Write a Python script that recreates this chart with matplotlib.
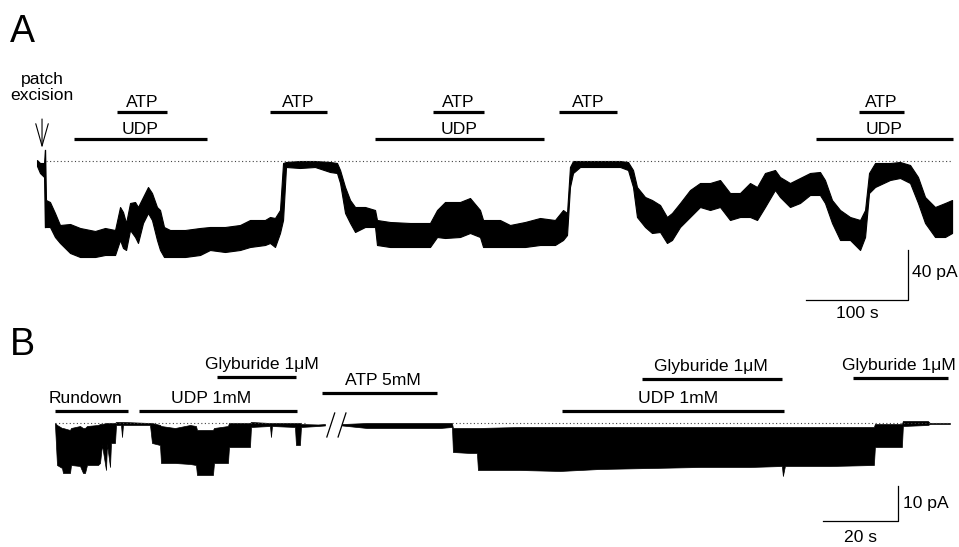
import matplotlib
matplotlib.use("Agg")
import matplotlib.pyplot as plt

plt.rcParams["font.family"] = ["Liberation Sans", "DejaVu Sans"]

# ---- panel A: macroscopic current (time in s, current in pA) ----
a_time = [0, 2.9, 6.9, 7.8, 8.8, 12.7, 17.6, 22.5, 32.4, 42.2, 56.9, 66.7, 76.5, 81.4,
          84.3, 87.3, 91.2, 96.1, 99, 103.9, 108.8, 112.7, 117.6, 120.6, 124.5, 130.4,
          145.1, 159.8, 169.6, 184.3, 199, 208.8, 223.5, 228.4, 233.3, 238.2, 241.2,
          244.1, 257.8, 272.5, 287.3, 294.1, 297.1, 302, 306.9, 311.8, 321.6, 331.4,
          333.3, 346.1, 365.7, 385.3, 392.2, 400, 414.7, 424.5, 434.3, 437.3, 453.9,
          463.7, 478.4, 493.1, 507.8, 515.7, 519.6, 522.5, 525.5, 532.4, 571.6, 579.4,
          584.3, 588.2, 596.1, 602.9, 610.8, 617.6, 622.5, 630.4, 640.2, 650, 659.8,
          669.6, 679.4, 689.2, 699, 705.9, 713.7, 723.5, 728.4, 738.2, 748, 757.8,
          767.6, 772.5, 779.4, 787.3, 797.1, 806.9, 811.8, 815.7, 821.6, 836.3, 846.1,
          855.9, 863.7, 870.6, 880.4, 890.2, 897.1]
a_top = [0.8, -1.6, -1.6, 8.8, -31.2, -32.8, -41.6, -51.2, -50.4, -53.6, -56, -53.6,
         -55.2, -36.8, -40.8, -49.6, -33.6, -32.8, -36.8, -28.8, -20.8, -25.6, -36.8,
         -39.2, -52.8, -55.2, -55.2, -53.6, -52.8, -52.8, -51.2, -47.2, -47.2, -44.8,
         -45.6, -39.2, -1.6, -0.8, 0, 0, -0.8, -1.6, -7.2, -20.8, -31.2, -36.8, -36.8,
         -39.2, -47.2, -48.8, -49.6, -49.6, -39.2, -32.8, -32.8, -29.6, -39.2, -47.2,
         -47.2, -51.2, -48.8, -45.6, -47.2, -39.2, -41.6, -4.8, 0, 0, 0, -0.8, -7.2,
         -20.8, -28.8, -31.2, -35.2, -44.8, -41.6, -33.6, -23.2, -17.6, -17.6, -15.2,
         -25.6, -25.6, -17.6, -20.8, -9.6, -7.2, -12.8, -17.6, -13.6, -9.6, -8.8,
         -15.2, -31.2, -39.2, -44.8, -47.2, -39.2, -9.6, -1.6, -1.6, -0.8, -3.2,
         -12.8, -28.8, -36.8, -33.6, -31.2]
a_bottom = [-4, -9.6, -12.8, -52.8, -52.8, -52.8, -60.8, -65.6, -73.6, -76.8, -76.8,
            -75.2, -75.2, -63.2, -69.6, -71.2, -55.2, -60.8, -65.6, -49.6, -41.6,
            -47.2, -63.2, -71.2, -76.8, -76.8, -76.8, -75.2, -71.2, -72.8, -71.2,
            -68.8, -67.2, -65.6, -68.8, -57.6, -47.2, -4.8, -5.6, -4.8, -8.8, -9.6,
            -17.6, -41.6, -49.6, -56.8, -52.8, -52.8, -67.2, -68.8, -68.8, -68.8,
            -60.8, -61.6, -60.8, -57.6, -60.8, -68.8, -68.8, -68.8, -68.8, -67.2,
            -67.2, -63.2, -59.2, -20.8, -9.6, -4.8, -4.8, -7.2, -20.8, -44.8, -52.8,
            -57.6, -56.8, -65.6, -63.2, -52.8, -44.8, -36.8, -39.2, -36.8, -47.2,
            -44.8, -44.8, -47.2, -36.8, -23.2, -28.8, -36.8, -33.6, -27.2, -27.2,
            -33.6, -49.6, -63.2, -63.2, -71.2, -60.8, -25.6, -20.8, -15.2, -13.6,
            -17.6, -33.6, -49.6, -60.8, -60.8, -57.6]

# solution bars: label, start (s), end (s), row (0 = lower, 1 = upper)
a_bar_labels = ["ATP", "UDP", "ATP", "ATP", "UDP", "ATP", "ATP", "UDP"]
a_bar_start = [78.4, 36.3, 228.4, 388.2, 331.4, 511.8, 805.9, 763.7]
a_bar_end = [127.5, 166.7, 284.3, 438.2, 497.1, 568.6, 850, 898]
a_bar_row = [1, 0, 1, 1, 0, 1, 1, 0]

# ---- panel B: single channel current (display time in s, current in pA) ----
b1_time = [0, 0.53, 1.87, 2.13, 4, 4.27, 6.67, 7.47, 8, 8.53, 11.47, 12, 12.53, 13.6,
           13.87, 14.67, 14.93, 16, 16.27, 17.6, 17.87, 18.13, 25.33, 25.87, 28, 28.27,
           32, 36, 37.6, 37.87, 42.13, 42.4, 46.13, 46.4, 52, 52.27, 57.33, 57.6, 57.87,
           64, 64.27, 65.33, 65.6, 70.13, 72]
b1_top = [0, -0.57, -1.43, -1.43, -2, -1.43, -0.86, -1.43, -1.43, -0.86, -0.57, -0.29,
          -0.29, 0, 0, 0, 0, 0, 0.29, 0.29, 0.29, 0.29, 0, 0, -0.57, -0.86, -1.43, -0.57,
          -0.86, -2, -2, -1.43, -0.86, 0, 0, 0.29, 0, 0, 0, 0, 0, 0, -0.29, -0.43, -0.3]
b1_bottom = [-0.57, -12, -12.86, -14.29, -14.29, -12, -12.29, -14.29, -14.29, -12,
             -12, -11.43, -6.29, -13.43, -6, -12.57, -5.71, -5.71, -0.57, -0.57, -4,
             -0.57, -0.57, -5.71, -6.29, -11.43, -11.43, -11.71, -12, -14.86, -14.86,
             -11.43, -11.43, -6.86, -6.86, -1.14, -0.86, -4, -0.86, -1.14, -6.29, -6.29,
             -1.14, -0.86, -0.7]
b2_time = [76.53, 83.2, 92, 97.33, 102.67, 105.87, 106.13, 110.67, 112.53, 112.8, 124,
           134.67, 145.33, 158.67, 172, 185.33, 193.87, 194.13, 194.67, 206.67, 218.4,
           218.67, 225.87, 226.13, 232.8, 233.33, 238.67]
b2_top = [-0.3, 0, 0, 0, 0, 0, -1.43, -1.43, -1.43, -1.43, -1.14, -1.14, -1.14, -1.14,
          -1.14, -1.14, -1.14, -1.14, -1.14, -1.14, -1.14, -0.29, -0.29, 0.57, 0.57, 0, 0]
b2_bottom = [-0.7, -1.43, -1.43, -1.43, -1.43, -1.14, -8.29, -8.57, -8.57, -13.43,
             -13.43, -13.71, -13.14, -12.86, -12.57, -12.57, -12.29, -15.14, -12.29,
             -12.29, -12, -6.86, -6.86, -0.86, -0.57, -0.29, -0.29]
b_break = [72.0, 76.53]

b_bar_labels = ["Rundown", "UDP 1mM", "Glyburide 1\u03bcM", "ATP 5mM",
                "Glyburide 1\u03bcM", "UDP 1mM", "Glyburide 1\u03bcM"]
b_bar_start = [0, 22.4, 43.2, 71.2, 156.5, 135.2, 212.8]
b_bar_end = [19.5, 64.5, 64.3, 101.9, 193.9, 194.4, 238.1]
b_bar_level = [3.43, 3.43, 13.14, 8.57, 12.57, 3.43, 12.86]
b_label_center = [8.0, 41.6, 55.2, 87.5, 174.9, 166.1, 225.1]

FS = 12.6
W, H = 959, 547
SPLIT = 330  # pixel row dividing the two panels

fig = plt.figure(figsize=(W / 100, H / 100), dpi=100)
axA = fig.add_axes([0, (H - SPLIT) / H, 1, SPLIT / H])
axB = fig.add_axes([0, 0, 1, (H - SPLIT) / H])
for ax in (axA, axB):
    ax.set_axis_off()

# panel A
axA.set_xlim(-36.3, 903.9)
axA.set_ylim(-135.2, 128.8)
axA.plot([9, 897], [0, 0], color="#444444", lw=0.8, ls=(0, (1, 2.2)))
axA.fill_between(a_time, a_bottom, a_top, color="black", lw=0.8, edgecolor="black")
axA.plot([7.8, 7.8], [8.8, -52.8], color="black", lw=0.9)
for lab, s, e, r in zip(a_bar_labels, a_bar_start, a_bar_end, a_bar_row):
    lev = 39.2 if r == 1 else 17.6
    axA.plot([s, e], [lev, lev], color="black", lw=2.3, solid_capstyle="butt")
    axA.annotate(lab, ((s + e) / 2, lev), xytext=(0, 3.8), textcoords="offset points",
                 ha="center", va="baseline", fontsize=FS)
axA.text(4.9, 46, "patch\nexcision", ha="center", va="bottom", fontsize=FS,
         linespacing=1.1)
axA.annotate("", xy=(4.9, 10.4), xytext=(4.9, 33.6),
             arrowprops=dict(arrowstyle="->,head_length=1.6,head_width=0.45", lw=0.8,
                             mutation_scale=10, shrinkA=0, shrinkB=0, color="black"))
# scale bars A
axA.plot([754, 854, 854], [-111.2, -111.2, -71.2], color="black", lw=0.9)
axA.text(857.8, -88.8, "40 pA", ha="left", va="center", fontsize=FS)
axA.text(804, -121.6, "100 s", ha="center", va="center", fontsize=FS)

# panel B
axB.set_xlim(-14.67, 241.1)
axB.set_ylim(-35.43, 26.57)
axB.plot([0, b_break[0] - 5.0], [0, 0], color="#444444", lw=0.8, ls=(0, (1, 2.2)))
axB.plot([105.9, 238.7], [0, 0], color="#444444", lw=0.8, ls=(0, (1, 2.2)))
axB.fill_between(b1_time, b1_bottom, b1_top, color="black", lw=0.5, edgecolor="black")
axB.fill_between(b2_time, b2_bottom, b2_top, color="black", lw=0.5, edgecolor="black")
# axis break marks
for x0 in (b_break[0] + 0.5, b_break[0] + 3.5):
    axB.plot([x0, x0 + 2.1], [-4, 2.86], color="black", lw=0.9)
for lab, s, e, lev, c in zip(b_bar_labels, b_bar_start, b_bar_end, b_bar_level,
                             b_label_center):
    axB.plot([s, e], [lev, lev], color="black", lw=2.3, solid_capstyle="butt")
    axB.annotate(lab, (c, lev), xytext=(0, 5.5), textcoords="offset points",
                 ha="center", va="baseline", fontsize=FS)
# scale bars B
axB.plot([204.8, 224.8, 224.8], [-28, -28, -18], color="black", lw=0.9)
axB.text(226.2, -22.9, "10 pA", ha="left", va="center", fontsize=FS)
axB.text(214.8, -32.6, "20 s", ha="center", va="center", fontsize=FS)

fig.text(10 / W, 1 - 42 / H, "A", fontsize=27, ha="left", va="baseline")
fig.text(10 / W, 1 - 355 / H, "B", fontsize=27, ha="left", va="baseline")

fig.savefig("out.png", dpi=100, facecolor="white")
